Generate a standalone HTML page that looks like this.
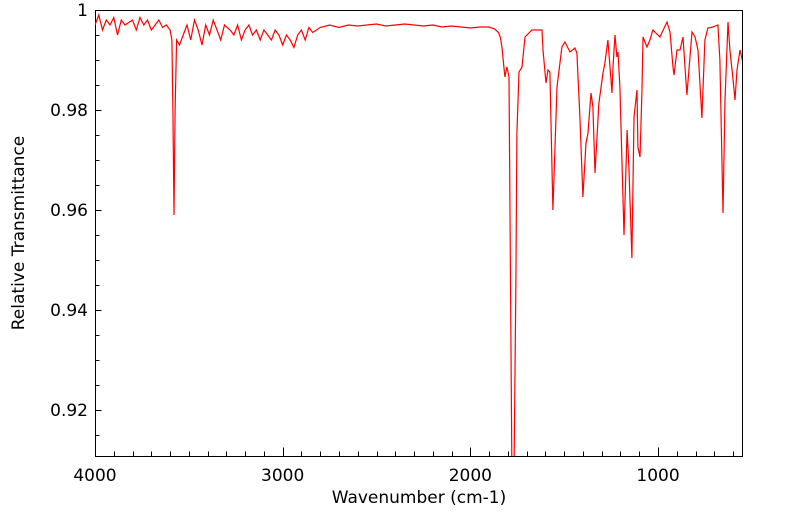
<!DOCTYPE html>
<html><head><meta charset="utf-8"><style>
body{margin:0;background:#fff;}
svg{display:block;font-family:"DejaVu Sans","Liberation Sans",sans-serif;}
</style></head><body>
<svg id="chart" width="799" height="516" viewBox="0 0 799 516" xmlns="http://www.w3.org/2000/svg">
<defs><clipPath id="clip"><rect x="95" y="10" width="647" height="446"/></clipPath></defs>
<rect x="95.5" y="10.5" width="647" height="446" fill="none" stroke="#000" stroke-width="1"/>
<g id="ticks" stroke="#000" stroke-width="1"></g>
<g id="labels" font-size="17" fill="#000"></g>
<path id="line" fill="none" stroke="#ff0000" stroke-width="1.2" clip-path="url(#clip)"/>
<text x="419" y="503" font-size="17" text-anchor="middle">Wavenumber (cm-1)</text>
<text x="24" y="233" font-size="17" text-anchor="middle" transform="rotate(-90 24 233)">Relative Transmittance</text>
</svg>
<script>
const wavenumbers=[4000,3980,3960,3940,3920,3900,3880,3860,3840,3820,3800,3780,3760,3740,3720,3700,3680,3660,3640,3620,3600,
3590,3585,3579,3573,3565,3550,
3530,3510,3490,3470,3450,3430,3410,3390,3370,3350,3330,3310,
3280,3260,3240,3220,3200,3180,3160,3140,3120,3100,3080,3060,3040,3020,3000,2980,2960,
2940,2920,2900,2880,2860,2840,
2800,2750,2700,2650,2600,2550,2500,2450,2400,2350,2300,2250,2200,2150,2100,2050,2000,
1949,1900,1870,1850,1840,1832,1816,1805,1794,1778,1768,1757,1752,1741,1725,1709,1672,1618,1613,1597,1586,1576,1560,1538,1512,1496,1469,1443,1432,1416,1400,1384,1373,1357,1347,1336,1315,1293,1283,1267,1256,1245,1240,1229,1219,1213,1203,1181,1165,1155,1139,1128,1112,1107,1096,1086,1080,1059,1043,1027,990,952,936,920,915,899,883,867,856,846,819,803,787,766,750,734,707,681,670,654,643,627,617,601,590,579,563,547];
const transmittance=[0.997,0.999,0.996,0.998,0.997,0.9985,0.995,0.998,0.997,0.9975,0.998,0.996,0.9985,0.997,0.998,0.996,0.997,0.998,0.9965,0.997,0.996,
0.994,0.980,0.959,0.980,0.994,0.993,
0.995,0.997,0.994,0.998,0.996,0.993,0.997,0.995,0.998,0.996,0.994,0.997,
0.996,0.995,0.997,0.994,0.996,0.997,0.995,0.996,0.994,0.996,0.995,0.994,0.996,0.995,0.993,0.995,0.994,
0.9925,0.995,0.996,0.994,0.9965,0.9955,
0.9965,0.997,0.9965,0.997,0.9968,0.997,0.9972,0.9968,0.997,0.9972,0.997,0.9968,0.997,0.9966,0.9968,0.9966,0.9964,
0.9966,0.9966,0.9962,0.9955,0.9945,0.9926,0.9866,0.9886,0.9866,0.905,0.905,0.946,0.9754,0.9876,0.9886,0.9946,0.996,0.996,0.992,0.9854,0.988,0.9876,0.960,0.9846,0.9926,0.9936,0.9916,0.9924,0.9914,0.9786,0.9626,0.9734,0.9754,0.9834,0.9806,0.9674,0.9814,0.9874,0.9894,0.994,0.9886,0.9834,0.9886,0.995,0.9906,0.9916,0.9846,0.955,0.976,0.9686,0.9504,0.9786,0.984,0.9726,0.9706,0.9834,0.9946,0.9926,0.994,0.996,0.9946,0.9976,0.9956,0.9886,0.987,0.992,0.992,0.9946,0.9886,0.983,0.9956,0.9946,0.992,0.9784,0.994,0.9964,0.9966,0.997,0.990,0.9594,0.982,0.9976,0.992,0.9864,0.982,0.988,0.992,0.9894];
const yTickValues=[0.92,0.94,0.96,0.98,1];
const yTickLabels=["0.92","0.94","0.96","0.98","1"];
const xTickValues=[4000,3000,2000,1000];
const xTickLabels=["4000","3000","2000","1000"];

const L=95,R=742,T=10,B=456,WMAX=4000,WMIN=552.5,YMIN=0.9108,YMAX=1;
function xs(w){return L+(WMAX-w)/(WMAX-WMIN)*(R-L);}
function ys(v){return T+(YMAX-v)/(YMAX-YMIN)*(B-T);}
const NS="http://www.w3.org/2000/svg";
const tg=document.getElementById('ticks'),lg=document.getElementById('labels');
function addLine(x1,y1,x2,y2){const l=document.createElementNS(NS,'line');


l.setAttribute('x1',x1);l.setAttribute('y1',y1);l.setAttribute('x2',x2);l.setAttribute('y2',y2);tg.appendChild(l);}
for(let k=183;k<=200;k++){const v=k/200;const y=Math.round(ys(v))+0.5;addLine(95.5,y,95.5+(k%4===0?6:4),y);}
for(let w=600;w<=4000;w+=100){const x=Math.round(xs(w))+0.5;addLine(x,456.5,x,456.5-(w%1000===0?9:5));}
yTickValues.forEach((v,i)=>{const t=document.createElementNS(NS,'text');


t.setAttribute('x',88);t.setAttribute('y',ys(v)+6);t.setAttribute('text-anchor','end');t.textContent=yTickLabels[i];lg.appendChild(t);});
xTickValues.forEach((v,i)=>{const t=document.createElementNS(NS,'text');


t.setAttribute('x',xs(v));t.setAttribute('y',481);t.setAttribute('text-anchor','middle');t.textContent=xTickLabels[i];lg.appendChild(t);});
let p="";wavenumbers.forEach((w,i)=>{p+=(i?"L":"M")+xs(w).toFixed(1)+" "+ys(transmittance[i]).toFixed(1);});
document.getElementById('line').setAttribute('d',p);
</script>
</body></html>
